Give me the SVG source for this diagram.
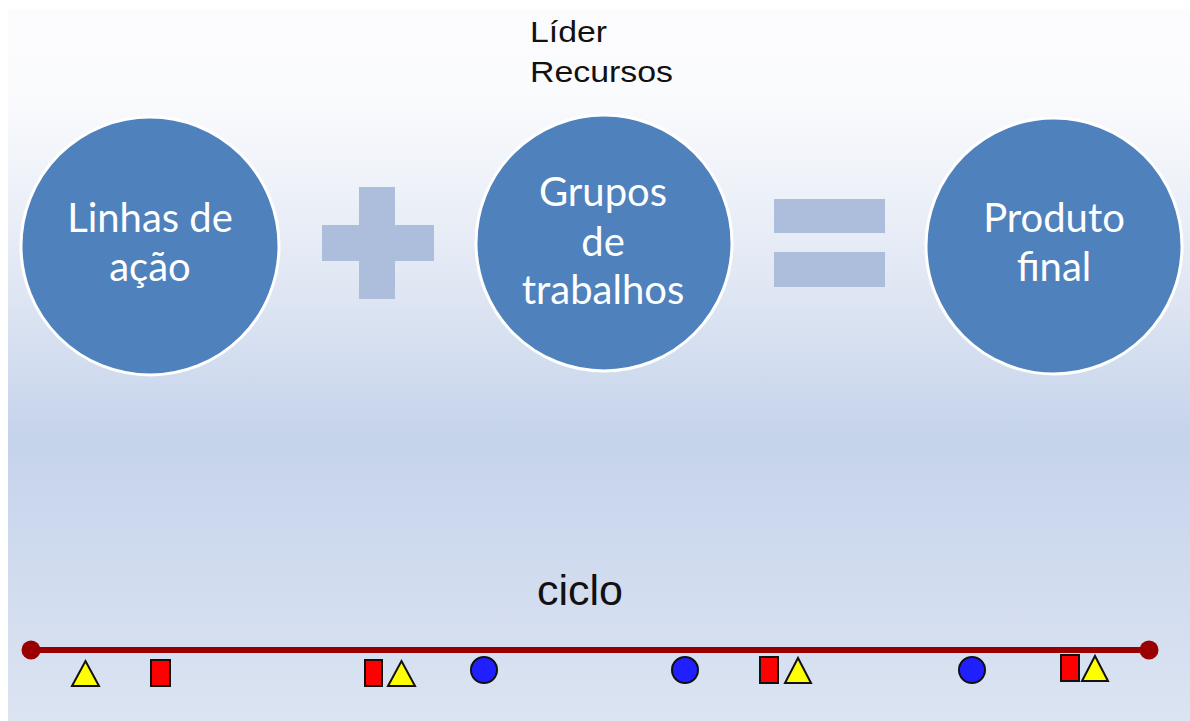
<svg xmlns="http://www.w3.org/2000/svg" width="1190" height="721" viewBox="0 0 1190 721">
<defs>
<linearGradient id="bg" x1="0" y1="0" x2="0" y2="1">
<stop offset="0" stop-color="#fcfcfd"/>
<stop offset="0.12" stop-color="#fafbfd"/>
<stop offset="0.4" stop-color="#dfe6f3"/>
<stop offset="0.6" stop-color="#c5d3eb"/>
<stop offset="1" stop-color="#dce4f2"/>
</linearGradient>
<style>
.node circle{fill:#4f81bd;stroke:#ffffff;stroke-width:3}
.nt{font-family:Lato,"Open Sans",sans-serif;font-size:40px;fill:#ffffff;text-anchor:middle}
.op{fill:#adbedc}
.lbl{font-family:"Liberation Sans",Arial,sans-serif;fill:#111111}
.rect{fill:#ff0000;stroke:#111;stroke-width:2}
.tri{fill:#ffff00;stroke:#111;stroke-width:2;stroke-linejoin:miter}
.dot{fill:#1f1fff;stroke:#111;stroke-width:2}
</style>
</defs>
<rect width="1190" height="721" fill="#ffffff"/>
<rect x="8" y="9" width="1182" height="712" fill="url(#bg)"/>

<text class="lbl" x="530" y="42" font-size="30" textLength="77" lengthAdjust="spacingAndGlyphs">Líder</text>
<text class="lbl" x="530" y="82" font-size="30" textLength="143" lengthAdjust="spacingAndGlyphs">Recursos</text>

<g id="node-linhas" class="node">
<circle cx="150" cy="246" r="129"/>
<text class="nt" x="150" y="232">Linhas de</text>
<text class="nt" x="150" y="281">ação</text>
</g>

<g id="op-plus" class="op">
<rect x="322" y="225" width="112" height="36"/>
<rect x="359" y="187" width="36" height="112"/>
</g>

<g id="node-grupos" class="node">
<circle cx="604" cy="243" r="128"/>
<text class="nt" x="603" y="206">Grupos</text>
<text class="nt" x="603" y="256">de</text>
<text class="nt" x="603" y="304">trabalhos</text>
</g>

<g id="op-equals" class="op">
<rect x="774" y="199" width="111" height="34"/>
<rect x="774" y="252" width="111" height="35"/>
</g>

<g id="node-produto" class="node">
<circle cx="1054" cy="246" r="128"/>
<text class="nt" x="1054" y="232">Produto</text>
<text class="nt" x="1054" y="281">final</text>
</g>

<g id="timeline">
<text class="lbl" x="580" y="605" font-size="43" text-anchor="middle">ciclo</text>
<line x1="31" y1="650" x2="1149" y2="650" stroke="#9b0000" stroke-width="6"/>
<circle cx="31" cy="650" r="9.5" fill="#9b0000"/>
<circle cx="1149" cy="650" r="9.5" fill="#9b0000"/>
</g>

<g id="markers">
<polygon class="tri" points="72,686 85.5,661 99,686"/>
<rect class="rect" x="151" y="660" width="19" height="26"/>
<rect class="rect" x="365" y="660" width="17" height="26"/>
<polygon class="tri" points="388,686 401.5,661 415,686"/>
<circle class="dot" cx="484" cy="670" r="13"/>
<circle class="dot" cx="685" cy="670" r="13"/>
<rect class="rect" x="760" y="657" width="18" height="26"/>
<polygon class="tri" points="785,683 798,658 811,683"/>
<circle class="dot" cx="972" cy="670" r="13"/>
<rect class="rect" x="1061" y="655" width="18" height="26"/>
<polygon class="tri" points="1082,681 1095,656 1108,681"/>
</g>
</svg>
